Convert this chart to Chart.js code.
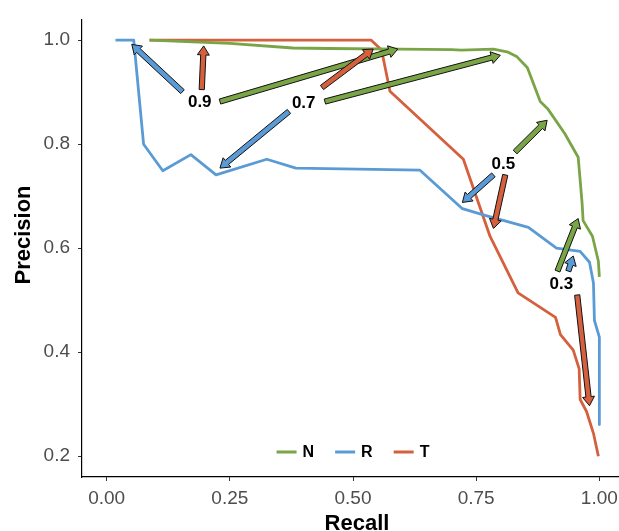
<!DOCTYPE html>
<html>
<head>
<meta charset="utf-8">
<script src="https://cdn.jsdelivr.net/npm/chart.js@4/dist/chart.umd.min.js"></script>
<style>
  html, body { margin: 0; padding: 0; background: #fff; overflow: hidden; }
  canvas { display: block; }
</style>
</head>
<body>
<canvas id="c" width="624" height="531"></canvas>
<script>
// ---------- data ----------
const seriesNames = ['N', 'R', 'T'];

const recallN    = [0.087, 0.25, 0.378, 0.45, 0.596, 0.70, 0.72, 0.785, 0.815, 0.833, 0.854, 0.88, 0.896, 0.93, 0.957, 0.962, 0.965, 0.967, 0.986, 0.998, 1.0];
const precisionN = [1.0, 0.994, 0.985, 0.984, 0.983, 0.982, 0.981, 0.983, 0.977, 0.968, 0.947, 0.882, 0.867, 0.82, 0.775, 0.72, 0.686, 0.653, 0.623, 0.575, 0.545];

const recallR    = [0.018, 0.055, 0.075, 0.114, 0.171, 0.222, 0.325, 0.384, 0.636, 0.722, 0.768, 0.856, 0.913, 0.961, 0.98, 0.988, 0.99, 1.0, 1.0];
const precisionR = [1.0, 1.0, 0.80, 0.749, 0.78, 0.741, 0.771, 0.754, 0.75, 0.676, 0.663, 0.64, 0.60, 0.594, 0.573, 0.533, 0.461, 0.429, 0.261];

const recallT    = [0.087, 0.537, 0.558, 0.575, 0.724, 0.778, 0.835, 0.911, 0.921, 0.947, 0.959, 0.961, 0.974, 0.988, 0.998];
const precisionT = [1.0, 1.0, 0.981, 0.902, 0.771, 0.623, 0.514, 0.467, 0.434, 0.404, 0.368, 0.309, 0.286, 0.244, 0.2];

const xTicks = [0, 0.25, 0.5, 0.75, 1.0];
const yTicks = [0.2, 0.4, 0.6, 0.8, 1.0];

// threshold annotations (data coordinates)
const thresholdLabels = ['0.9', '0.7', '0.5', '0.3'];
const thresholdRecall    = [0.189, 0.400, 0.805, 0.923];
const thresholdPrecision = [0.880, 0.878, 0.762, 0.530];

// arrows: threshold index, series, from (recall, precision), to (recall, precision)
const arrowThreshold = [0, 0, 0, 1, 1, 1, 2, 2, 2, 3, 3, 3];
const arrowSeries    = ['R', 'T', 'N', 'T', 'N', 'R', 'N', 'R', 'T', 'N', 'R', 'T'];
const arrowFromR = [0.154, 0.193, 0.230, 0.437, 0.443, 0.370, 0.829, 0.785, 0.809, 0.915, 0.937, 0.955];
const arrowFromP = [0.901, 0.905, 0.882, 0.909, 0.882, 0.863, 0.785, 0.741, 0.741, 0.556, 0.556, 0.510];
const arrowToR   = [0.051, 0.197, 0.591, 0.541, 0.799, 0.230, 0.894, 0.722, 0.785, 0.957, 0.947, 0.980];
const arrowToP   = [0.992, 0.989, 0.983, 0.983, 0.971, 0.754, 0.846, 0.688, 0.638, 0.657, 0.585, 0.297];

// ---------- styles ----------
const colors = { N: '#7aa547', R: '#5b9bd5', T: '#d4603e' };
const FONT = '"Liberation Sans", Arial, Helvetica, sans-serif';

function pts(rs, ps) { return rs.map((r, i) => ({ x: r, y: ps[i] })); }

const datasets = [
  { label: 'N', data: pts(recallN, precisionN), borderColor: colors.N },
  { label: 'R', data: pts(recallR, precisionR), borderColor: colors.R },
  { label: 'T', data: pts(recallT, precisionT), borderColor: colors.T }
].map(d => Object.assign(d, {
  showLine: true, pointRadius: 0, borderWidth: 2.8, tension: 0, fill: false,
  backgroundColor: d.borderColor, borderJoinStyle: 'round', borderCapStyle: 'butt'
}));

function drawArrow(ctx, x1, y1, x2, y2, color) {
  const dx = x2 - x1, dy = y2 - y1, len = Math.hypot(dx, dy);
  const ux = dx / len, uy = dy / len, nx = -uy, ny = ux;
  const hl = Math.min(9, len * 0.6), sw = 2.6, hw = 6;
  const bx = x2 - ux * hl, by = y2 - uy * hl;
  ctx.beginPath();
  ctx.moveTo(x1 + nx * sw, y1 + ny * sw);
  ctx.lineTo(bx + nx * sw, by + ny * sw);
  ctx.lineTo(bx + nx * hw, by + ny * hw);
  ctx.lineTo(x2, y2);
  ctx.lineTo(bx - nx * hw, by - ny * hw);
  ctx.lineTo(bx - nx * sw, by - ny * sw);
  ctx.lineTo(x1 - nx * sw, y1 - ny * sw);
  ctx.closePath();
  ctx.fillStyle = color;
  ctx.fill();
  ctx.lineWidth = 1;
  ctx.strokeStyle = '#111';
  ctx.lineJoin = 'miter';
  ctx.stroke();
}

const annotationPlugin = {
  id: 'annotations',
  afterDatasetsDraw(chart) {
    const ctx = chart.ctx, xs = chart.scales.x, ys = chart.scales.y;
    ctx.save();
    for (let i = 0; i < arrowSeries.length; i++) {
      drawArrow(ctx,
        xs.getPixelForValue(arrowFromR[i]), ys.getPixelForValue(arrowFromP[i]),
        xs.getPixelForValue(arrowToR[i]), ys.getPixelForValue(arrowToP[i]),
        colors[arrowSeries[i]]);
    }
    ctx.fillStyle = '#000';
    ctx.font = 'bold 17px ' + FONT;
    ctx.textAlign = 'center';
    ctx.textBaseline = 'middle';
    thresholdLabels.forEach((t, i) => {
      ctx.fillText(t, xs.getPixelForValue(thresholdRecall[i]), ys.getPixelForValue(thresholdPrecision[i]));
    });
    ctx.restore();
  },
  afterDraw(chart) {
    const ctx = chart.ctx, a = chart.chartArea;
    ctx.save();
    // legend inside panel, bottom centre
    ctx.font = 'bold 16px ' + FONT;
    ctx.textBaseline = 'middle';
    ctx.textAlign = 'left';
    const lineLen = 20, gap = 6, spacing = 21;
    const items = chart.data.datasets.map(d => ({ label: d.label, color: d.borderColor, w: ctx.measureText(d.label).width }));
    let total = items.reduce((s, it) => s + lineLen + gap + it.w, 0) + spacing * (items.length - 1);
    let x = (a.left + a.right) / 2 - total / 2;
    const y = 452;
    items.forEach(it => {
      ctx.strokeStyle = it.color;
      ctx.lineWidth = 3;
      ctx.beginPath();
      ctx.moveTo(x, y);
      ctx.lineTo(x + lineLen, y);
      ctx.stroke();
      ctx.fillStyle = '#000';
      ctx.fillText(it.label, x + lineLen + gap, y + 1);
      x += lineLen + gap + it.w + spacing;
    });
    // axis titles
    ctx.font = 'bold 22px ' + FONT;
    ctx.fillStyle = '#000';
    ctx.textAlign = 'center';
    ctx.textBaseline = 'alphabetic';
    ctx.fillText('Recall', 357, 530);
    ctx.translate(30, 235);
    ctx.rotate(-Math.PI / 2);
    ctx.fillText('Precision', 0, 0);
    ctx.restore();
  }
};

new Chart(document.getElementById('c'), {
  type: 'scatter',
  data: { datasets },
  options: {
    responsive: false,
    animation: false,
    events: [],
    layout: { padding: { top: 15, left: 0, right: 0, bottom: 0 } },
    plugins: { legend: { display: false }, tooltip: { enabled: false }, title: { display: false } },
    scales: {
      x: {
        type: 'linear', min: -0.05, max: 1.05,
        afterBuildTicks: s => { s.ticks = xTicks.map(v => ({ value: v })); },
        afterFit: s => { s.height = 54; },
        ticks: {
          callback: v => Number(v).toFixed(2), color: '#4d4d4d',
          font: { size: 19, family: FONT }, padding: 6, maxRotation: 0, autoSkip: false
        },
        grid: { drawOnChartArea: false, drawTicks: true, tickLength: 4, color: '#333', lineWidth: 1 },
        border: { display: true, color: '#000', width: 1.2 }
      },
      y: {
        type: 'linear', min: 0.16, max: 1.04,
        afterBuildTicks: s => { s.ticks = yTicks.map(v => ({ value: v })); },
        afterFit: s => { s.width = 82; },
        ticks: {
          callback: v => Number(v).toFixed(1), color: '#4d4d4d',
          font: { size: 19, family: FONT }, padding: 8, autoSkip: false
        },
        grid: { drawOnChartArea: false, drawTicks: true, tickLength: 4, color: '#333', lineWidth: 1 },
        border: { display: true, color: '#000', width: 1.2 }
      }
    }
  },
  plugins: [annotationPlugin]
});
</script>
</body>
</html>
